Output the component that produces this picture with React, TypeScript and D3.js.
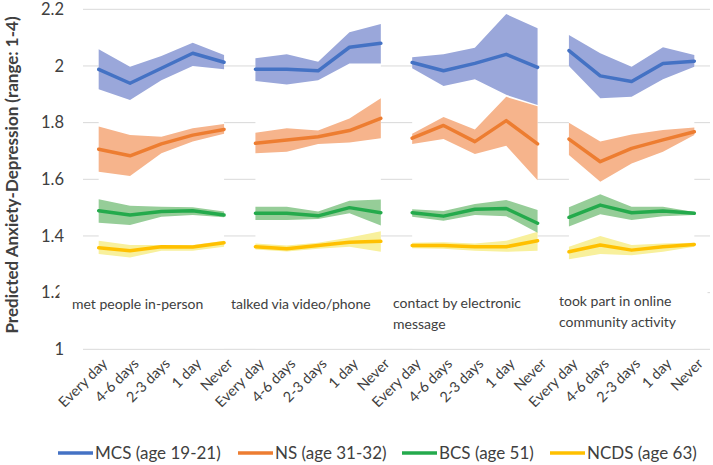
import React from "react";
import * as d3 from "d3";

const frequencies = ["Every day", "4-6 days", "2-3 days", "1 day", "Never"];
const panels = [
  ["met people in-person"],
  ["talked via video/phone"],
  ["contact by electronic", "message"],
  ["took part in online", "community activity"],
];
const yTicks = [1, 1.2, 1.4, 1.6, 1.8, 2, 2.2];
const seriesNames = ["MCS (age 19-21)", "NS (age 31-32)", "BCS (age 51)", "NCDS (age 63)"];

const mcsMean = [1.988, 1.939, 1.992, 2.045, 2.013, 1.988, 1.988, 1.983, 2.066, 2.08, 2.012, 1.983, 2.009, 2.041, 1.995, 2.054, 1.965, 1.945, 2.009, 2.017];
const mcsUpper = [2.059, 1.997, 2.035, 2.082, 2.039, 2.027, 2.041, 2.015, 2.119, 2.148, 2.031, 2.041, 2.064, 2.183, 2.133, 2.109, 2.045, 1.997, 2.066, 2.039];
const mcsLower = [1.918, 1.88, 1.95, 2.0, 1.988, 1.947, 1.935, 1.95, 2.009, 2.009, 1.992, 1.929, 1.953, 1.898, 1.862, 2.0, 1.886, 1.891, 1.953, 1.997];

const nsMean = [1.706, 1.683, 1.725, 1.756, 1.776, 1.727, 1.739, 1.75, 1.772, 1.815, 1.745, 1.79, 1.733, 1.807, 1.725, 1.742, 1.662, 1.709, 1.739, 1.768];
const nsUpper = [1.786, 1.756, 1.75, 1.78, 1.795, 1.764, 1.78, 1.772, 1.815, 1.886, 1.761, 1.82, 1.776, 1.891, 1.858, 1.8, 1.733, 1.758, 1.774, 1.783];
const nsLower = [1.627, 1.612, 1.692, 1.733, 1.761, 1.692, 1.697, 1.725, 1.73, 1.745, 1.725, 1.742, 1.689, 1.718, 1.597, 1.686, 1.591, 1.656, 1.697, 1.756];

const bcsMean = [1.489, 1.474, 1.486, 1.489, 1.474, 1.48, 1.48, 1.471, 1.5, 1.482, 1.482, 1.47, 1.494, 1.497, 1.445, 1.466, 1.509, 1.482, 1.488, 1.48];
const bcsUpper = [1.53, 1.507, 1.503, 1.501, 1.486, 1.503, 1.503, 1.486, 1.524, 1.529, 1.494, 1.488, 1.513, 1.527, 1.492, 1.501, 1.547, 1.503, 1.503, 1.485];
const bcsLower = [1.447, 1.439, 1.468, 1.474, 1.466, 1.456, 1.456, 1.46, 1.48, 1.437, 1.468, 1.454, 1.474, 1.47, 1.411, 1.433, 1.477, 1.456, 1.47, 1.474];

const ncdsMean = [1.358, 1.348, 1.362, 1.361, 1.376, 1.362, 1.355, 1.366, 1.378, 1.381, 1.366, 1.366, 1.362, 1.362, 1.383, 1.344, 1.368, 1.35, 1.362, 1.37];
const ncdsUpper = [1.383, 1.368, 1.368, 1.368, 1.383, 1.373, 1.366, 1.376, 1.395, 1.417, 1.376, 1.378, 1.373, 1.383, 1.415, 1.362, 1.4, 1.368, 1.373, 1.376];
const ncdsLower = [1.336, 1.324, 1.348, 1.348, 1.362, 1.352, 1.345, 1.355, 1.362, 1.344, 1.357, 1.355, 1.348, 1.344, 1.348, 1.318, 1.336, 1.332, 1.344, 1.362];

const series = [
  { name: seriesNames[0], mean: mcsMean, lower: mcsLower, upper: mcsUpper, line: "#4472C4", band: "#9AA7DA" },
  { name: seriesNames[1], mean: nsMean, lower: nsLower, upper: nsUpper, line: "#ED7D31", band: "#F6B48C" },
  { name: seriesNames[2], mean: bcsMean, lower: bcsLower, upper: bcsUpper, line: "#24AA4C", band: "#96CD98" },
  { name: seriesNames[3], mean: ncdsMean, lower: ncdsLower, upper: ncdsUpper, line: "#FFC000", band: "#F8F09C" },
];

const FONT = "Lato, 'Open Sans', sans-serif";

export default function App() {
  const W = 713, H = 465;
  const left = 83, right = 710;
  const y = d3.scaleLinear().domain([1, 2.2]).range([349.3, 9.3]);
  const cats = d3.range(panels.length * frequencies.length);
  const x = d3.scaleBand<number>().domain(cats).range([left, right]).padding(0);
  const cx = (i: number) => (x(i) as number) + x.bandwidth() / 2;

  const panelIdx = panels.map((_, p) => d3.range(p * 5, p * 5 + 5));
  const drawOrder = [3, 2, 1, 0];

  return (
    <svg width={W} height={H} style={{ position: "absolute", left: 0, top: 0, background: "#fff" }} fontFamily={FONT}>
      {yTicks.filter((t) => t > 1).map((t) => (
        <line key={t} x1={left} x2={right} y1={y(t)} y2={y(t)} stroke="#D9D9D9" strokeWidth={1} />
      ))}
      <line x1={left} x2={right} y1={y(1)} y2={y(1)} stroke="#D9D9D9" strokeWidth={1} />
      {panelIdx.map((idx, p) => (
        <rect key={p} x={cx(idx[0])} y={y(2.19)} width={cx(idx[4]) - cx(idx[0])} height={y(1) - y(2.19) - 1} fill="#fff" />
      ))}
      {yTicks.map((t) => (
        <text key={t} x={64} y={y(t)} dy="0.35em" textAnchor="end" fontSize={16.5} fill="#404040">
          {d3.format("~g")(t)}
        </text>
      ))}
      {drawOrder.map((si) => {
        const s = series[si];
        const area = d3.area<number>().x((i) => cx(i)).y0((i) => y(s.lower[i])).y1((i) => y(s.upper[i]));
        return panelIdx.map((idx, p) => <path key={si + "-" + p} d={area(idx) || ""} fill={s.band} />);
      })}
      {drawOrder.map((si) => {
        const s = series[si];
        const ln = d3.line<number>().x((i) => cx(i)).y((i) => y(s.mean[i]));
        return panelIdx.map((idx, p) => (
          <path key={si + "-l" + p} d={ln(idx) || ""} fill="none" stroke={s.line} strokeWidth={3.5} strokeLinejoin="round" strokeLinecap="round" />
        ));
      })}
      <rect x={59.5} y={284} width={648} height={46} fill="#fff" />
      {panels.map((lines, p) => {
        const lx = [72, 231, 393, 559][p];
        const ly = lines.length > 1 ? [0, 0, 303, 301][p] : 304;
        return (
          <text key={p} x={lx} y={ly} fontSize={14} fill="#404040">
            {lines.map((l, k) => (
              <tspan key={k} x={lx} dy={k === 0 ? "0.35em" : 21.5}>{l}</tspan>
            ))}
          </text>
        );
      })}
      {cats.map((i) => (
        <text key={i} transform={`translate(${cx(i) + 6},${361}) rotate(-45)`} textAnchor="end" fontSize={14.5} fill="#404040" dy="0.35em">
          {frequencies[i % 5]}
        </text>
      ))}
      <text transform={`translate(18,${175}) rotate(-90)`} textAnchor="middle" fontSize={17} fontWeight="bold" fill="#404040">
        Predicted Anxiety-Depression (range: 1-4)
      </text>
      {series.map((s, k) => {
        const lx = [58, 238, 402, 550][k];
        return (
          <g key={k}>
            <line x1={lx} x2={lx + 35} y1={453} y2={453} stroke={s.line} strokeWidth={3.5} />
            <text x={lx + 37} y={453} dy="0.35em" fontSize={17} fill="#404040">{s.name}</text>
          </g>
        );
      })}
    </svg>
  );
}
